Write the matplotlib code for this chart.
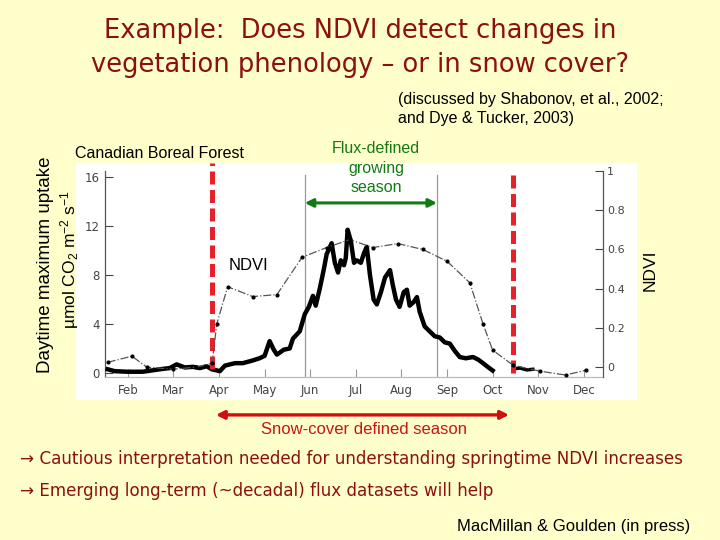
"""Slide re-creation: NDVI vs flux-defined growing season (Canadian Boreal Forest)."""

import matplotlib

matplotlib.use("Agg")
import matplotlib.pyplot as plt
from matplotlib.patches import Rectangle

# --- data (x in months, Jan = 1) -------------------------------------------
flux_month = [1.56, 1.71, 1.98, 2.33, 2.70, 2.92, 3.07, 3.25, 3.43, 3.58, 3.73,
              3.84, 4.02, 4.13, 4.35, 4.52, 4.72, 4.89, 5.00, 5.11, 5.20, 5.27,
              5.42, 5.55, 5.62, 5.77, 5.88, 5.97, 6.06, 6.12, 6.21, 6.30, 6.36,
              6.47, 6.54, 6.61, 6.67, 6.74, 6.78, 6.82, 6.89, 6.96, 7.02, 7.11,
              7.18, 7.24, 7.31, 7.39, 7.46, 7.55, 7.64, 7.75, 7.81, 7.88, 7.96,
              8.05, 8.12, 8.18, 8.27, 8.34, 8.40, 8.51, 8.62, 8.73, 8.84, 8.95,
              9.06, 9.17, 9.28, 9.41, 9.57, 9.68, 9.79, 9.89, 10.00]
flux_uptake = [0.3, 0.15, 0.1, 0.1, 0.3, 0.4, 0.7, 0.45, 0.5, 0.4, 0.55,
               0.3, 0.15, 0.6, 0.8, 0.8, 1.0, 1.2, 1.4, 2.6, 1.9, 1.5,
               1.9, 2.0, 2.8, 3.4, 4.8, 5.4, 6.3, 5.5, 6.9, 8.5, 9.7,
               10.6, 9.0, 8.2, 9.2, 8.8, 9.4, 11.7, 10.8, 9.0, 9.2, 9.0,
               9.8, 10.3, 8.0, 6.0, 5.6, 6.6, 7.8, 8.4, 7.2, 6.0, 5.4,
               6.6, 6.8, 5.5, 5.8, 6.2, 5.0, 3.8, 3.4, 3.0, 2.9, 2.5,
               2.4, 1.8, 1.3, 1.2, 1.3, 1.1, 0.8, 0.5, 0.2]
flux_tail_month = [10.49, 10.60, 10.75, 10.88]
flux_tail_uptake = [0.35, 0.4, 0.25, 0.3]

ndvi_month = [1.56, 2.09, 2.42, 3.0, 3.5, 3.85, 3.95, 4.19, 4.74, 5.27, 5.82,
              6.36, 6.87, 7.37, 7.92, 8.47, 9.0, 9.5, 9.79, 10.0, 10.45, 11.03,
              11.6, 12.05]
ndvi_value = [0.025, 0.056, 0.0, -0.01, 0.0, 0.02, 0.22, 0.41, 0.36, 0.37, 0.56,
              0.61, 0.65, 0.61, 0.63, 0.60, 0.54, 0.43, 0.22, 0.087, 0.01, -0.02,
              -0.04, -0.015]

month_pos = [2, 3, 4, 5, 6, 7, 8, 9, 10, 11, 12]
month_lab = ["Feb", "Mar", "Apr", "May", "Jun", "Jul", "Aug", "Sep", "Oct", "Nov", "Dec"]

flux_season = (5.88, 8.78)   # gray lines / green arrow
snow_season = (3.84, 10.44)  # red dashed lines

BG = "#ffffcc"
DARKRED = "#8c1010"
GREEN = "#137a13"
SNOWRED = "#c81414"
ARIAL = "Liberation Sans"

plt.rcParams["mathtext.fontset"] = "custom"
plt.rcParams["mathtext.rm"] = ARIAL
plt.rcParams["mathtext.it"] = ARIAL + ":italic"


def fx(px):
    return px / 720


def fy(py):
    return 1 - py / 540


fig = plt.figure(figsize=(7.2, 5.4), dpi=100, facecolor=BG)

# white picture behind the chart
fig.patches.append(Rectangle((fx(76), fy(400)), fx(637) - fx(76), fy(163) - fy(400),
                             transform=fig.transFigure, facecolor="white",
                             edgecolor="none", zorder=-10))

ax = fig.add_axes([fx(105), fy(377), fx(603) - fx(105), fy(171) - fy(377)])
ax.set_facecolor("none")
ax2 = ax.twinx()
ax2.set_facecolor("none")

ax.plot(flux_month, flux_uptake, color="black", lw=3.2, solid_joinstyle="round", zorder=3)
ax.plot(flux_tail_month, flux_tail_uptake, color="black", lw=2.5, zorder=3)
ax2.plot(ndvi_month, ndvi_value, color="#555555", lw=0.9, ls="-.", marker="o",
         ms=2, mfc="black", mec="black", zorder=2)

ax.set_xlim(1.5, 12.42)
ax.set_ylim(-0.33, 16.5)
ax2.set_ylim(-0.05, 1.0)

ax.set_yticks([0, 4, 8, 12, 16])
ax2.set_yticks([0, 0.2, 0.4, 0.6, 0.8, 1.0])
ax2.set_yticklabels(["0", "0.2", "0.4", "0.6", "0.8", "1"])
ax.set_xticks(month_pos)
ax.set_xticklabels(month_lab)

for a in (ax, ax2):
    a.spines["top"].set_visible(False)
    for s in a.spines.values():
        s.set_color("#555555")
        s.set_linewidth(0.9)
ax.spines["right"].set_visible(False)
ax2.spines["left"].set_visible(False)
ax2.spines["bottom"].set_visible(False)
ax.spines["bottom"].set_color("#bbbbbb")
ax.tick_params(axis="y", direction="in", length=6, colors="#444444", labelsize=8.5, pad=4)
ax.tick_params(axis="x", direction="in", length=6, color="#999999",
               labelcolor="#444444", labelsize=8.5, pad=5)
ax2.tick_params(axis="y", direction="in", length=6, colors="#444444", labelsize=8, pad=3)

# season markers
for m in flux_season:
    ax.axvline(m, ymin=0, ymax=0.98, color="#999999", lw=0.9, zorder=1)
ax.axvline(snow_season[0], ymin=0.04, ymax=1.04, color="#e8202a", lw=3.6,
           ls=(0, (2.6, 1.1)), clip_on=False, zorder=5)
ax.axvline(snow_season[1], ymin=0.02, ymax=0.99, color="#e8202a", lw=3.6,
           ls=(0, (2.6, 1.1)), clip_on=False, zorder=5)

ax.annotate("", xy=(flux_season[0], 0.845), xytext=(flux_season[1], 0.845),
            xycoords=("data", "axes fraction"), textcoords=("data", "axes fraction"),
            arrowprops=dict(arrowstyle="<|-|>", color=GREEN, lw=2.2,
                            mutation_scale=12, shrinkA=0, shrinkB=0))
ax.annotate("", xy=(3.93, -0.184), xytext=(10.36, -0.184),
            xycoords=("data", "axes fraction"), textcoords=("data", "axes fraction"),
            arrowprops=dict(arrowstyle="<|-|>", color="#d01010", lw=2.4,
                            mutation_scale=12, shrinkA=0, shrinkB=0),
            annotation_clip=False)

ax.text(4.2, 8.4, "NDVI", fontsize=12, family=ARIAL, color="black", zorder=6)

# texts on the slide
fig.text(0.5, fy(31), "Example:  Does NDVI detect changes in", ha="center", va="center",
         fontsize=18.5, color=DARKRED, family="DejaVu Sans")
fig.text(0.5, fy(65), "vegetation phenology \u2013 or in snow cover?", ha="center", va="center",
         fontsize=18.5, color=DARKRED, family="DejaVu Sans")
fig.text(fx(398), fy(100), "(discussed by Shabonov, et al., 2002;", ha="left", va="center",
         fontsize=11.5, family=ARIAL)
fig.text(fx(398), fy(118), "and Dye & Tucker, 2003)", ha="left", va="center",
         fontsize=11.5, family=ARIAL)
fig.text(fx(75), fy(153), "Canadian Boreal Forest", ha="left", va="center",
         fontsize=11.5, family=ARIAL)
fig.text(fx(376), fy(168), "Flux-defined\ngrowing\nseason", ha="center", va="center",
         fontsize=11.5, family=ARIAL, color=GREEN, linespacing=1.38)
fig.text(fx(46), fy(265), "Daytime maximum uptake", rotation=90, ha="center", va="center",
         fontsize=13.5, family=ARIAL)
fig.text(fx(70), fy(260), "\u00b5mol CO$_2$ m$^{-2}$ s$^{-1}$", rotation=90,
         ha="center", va="center", fontsize=12.5, family=ARIAL)
fig.text(fx(650), fy(270), "NDVI", rotation=90, ha="center", va="center",
         fontsize=12.5, family=ARIAL)
fig.text(fx(364), fy(429), "Snow-cover defined season", ha="center", va="center",
         fontsize=12, family=ARIAL, color=SNOWRED)
fig.text(fx(20), fy(459), "\u2192 Cautious interpretation needed for understanding springtime NDVI increases",
         ha="left", va="center", fontsize=12.1, color=DARKRED, family="DejaVu Sans")
fig.text(fx(20), fy(491), "\u2192 Emerging long-term (~decadal) flux datasets will help",
         ha="left", va="center", fontsize=12.1, color=DARKRED, family="DejaVu Sans")
fig.text(fx(690), fy(526), "MacMillan & Goulden (in press)", ha="right", va="center",
         fontsize=12, family=ARIAL)

fig.savefig("out.png", dpi=100, facecolor=BG)
